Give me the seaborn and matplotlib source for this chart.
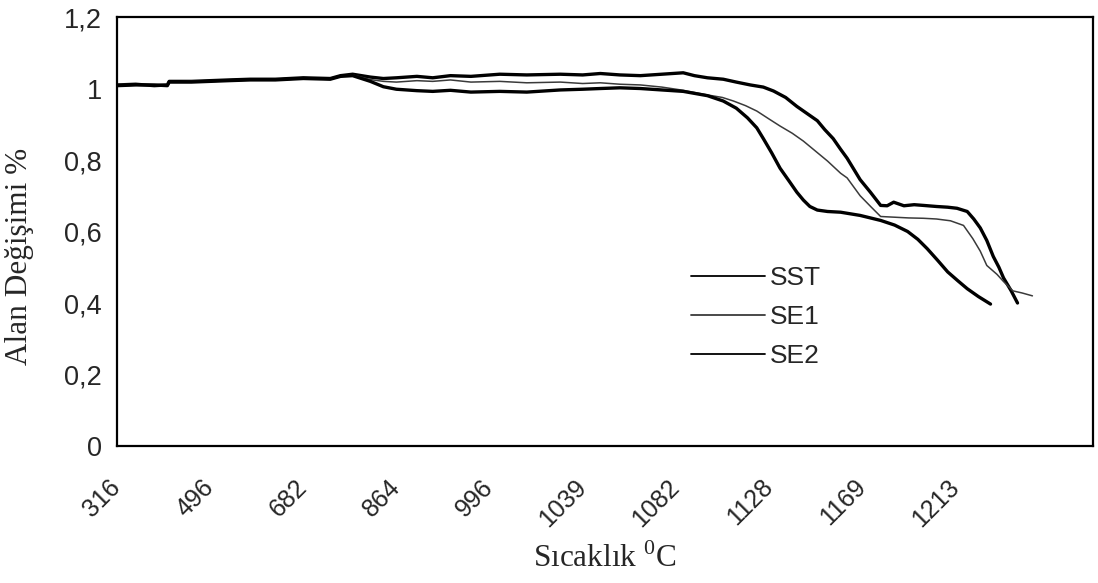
import matplotlib
matplotlib.use("Agg")
import matplotlib.pyplot as plt
import seaborn as sns
import pandas as pd

# ---- data (sample index along a category axis; ticks every 100 samples) ----
tick_labels = ["316", "496", "682", "864", "996", "1039", "1082", "1128", "1169", "1213"]

sst_idx = [0, 20, 40, 54, 56, 80, 100, 120, 143, 170, 200, 229, 240, 253, 272, 286, 300,
           322, 339, 358, 380, 411, 440, 476, 500, 519, 540, 562, 585, 608, 620, 634, 651,
           665, 680, 694, 705, 718, 730, 741, 752, 760, 769, 777, 784, 791, 798, 809, 820,
           827, 834, 845, 856, 866, 880, 892, 902, 913, 920, 927, 934, 941, 947, 952, 960, 967]
sst_val = [1.010, 1.012, 1.008, 1.010, 1.020, 1.020, 1.022, 1.024, 1.026, 1.026, 1.030, 1.028,
           1.036, 1.040, 1.032, 1.028, 1.030, 1.034, 1.030, 1.036, 1.034, 1.040, 1.038, 1.040,
           1.038, 1.042, 1.038, 1.036, 1.040, 1.044, 1.036, 1.030, 1.026, 1.018, 1.010, 1.004,
           0.993, 0.975, 0.950, 0.930, 0.910, 0.885, 0.860, 0.830, 0.805, 0.775, 0.745, 0.710,
           0.673, 0.672, 0.682, 0.672, 0.675, 0.673, 0.670, 0.668, 0.665, 0.656, 0.635, 0.610,
           0.575, 0.530, 0.500, 0.470, 0.435, 0.400]

se1_idx = [0, 20, 40, 54, 56, 80, 100, 120, 143, 170, 200, 229, 240, 253, 272, 286, 300,
           322, 339, 358, 380, 411, 440, 476, 500, 519, 540, 562, 585, 608, 634, 650, 662,
           675, 687, 700, 712, 725, 737, 750, 763, 777, 784, 798, 810, 820, 835, 850, 866,
           880, 895, 909, 919, 927, 934, 945, 952, 962, 972, 983]
se1_val = [1.012, 1.010, 1.010, 1.012, 1.018, 1.020, 1.020, 1.022, 1.024, 1.025, 1.028, 1.026,
           1.034, 1.038, 1.025, 1.020, 1.018, 1.022, 1.020, 1.024, 1.018, 1.020, 1.016, 1.018,
           1.014, 1.016, 1.012, 1.010, 1.004, 0.995, 0.982, 0.975, 0.965, 0.952, 0.937, 0.915,
           0.895, 0.875, 0.853, 0.825, 0.797, 0.763, 0.750, 0.700, 0.668, 0.642, 0.640, 0.638,
           0.637, 0.635, 0.630, 0.617, 0.580, 0.545, 0.505, 0.480, 0.460, 0.434, 0.428, 0.420]

se2_idx = [0, 20, 40, 54, 56, 80, 100, 120, 143, 170, 200, 229, 240, 253, 272, 286, 300,
           322, 339, 358, 380, 411, 440, 476, 500, 519, 540, 562, 585, 608, 634, 651, 665,
           677, 687, 694, 703, 712, 722, 730, 737, 744, 752, 763, 777, 798, 820, 835, 849,
           860, 870, 881, 892, 903, 913, 925, 938]
se2_val = [1.008, 1.010, 1.010, 1.008, 1.018, 1.018, 1.020, 1.022, 1.024, 1.024, 1.028, 1.026,
           1.034, 1.036, 1.020, 1.005, 0.998, 0.994, 0.992, 0.995, 0.990, 0.992, 0.990, 0.996,
           0.998, 1.000, 1.002, 1.000, 0.996, 0.992, 0.980, 0.965, 0.945, 0.918, 0.890, 0.860,
           0.820, 0.777, 0.740, 0.710, 0.688, 0.670, 0.660, 0.656, 0.654, 0.645, 0.631, 0.618,
           0.600, 0.578, 0.552, 0.520, 0.487, 0.462, 0.440, 0.418, 0.397]

series_names = ["SST", "SE1", "SE2"]

# ---- build long table ----
frames = []
for name, idx, val in zip(series_names, [sst_idx, se1_idx, se2_idx], [sst_val, se1_val, se2_val]):
    frames.append(pd.DataFrame({"idx": idx, "val": val, "series": name}))
df = pd.concat(frames, ignore_index=True)

sns.set_theme(style="white")
plt.rcParams["font.family"] = ["Liberation Sans", "DejaVu Sans"]
plt.rcParams["mathtext.fontset"] = "custom"
plt.rcParams["mathtext.rm"] = "Liberation Serif"

fig = plt.figure(figsize=(10.98, 5.83), dpi=100)
ax = fig.add_axes([0.1066, 0.235, 0.8888, 0.7358])

styles = {"SST": dict(color="black", lw=2.4),
          "SE1": dict(color="#3a3a3a", lw=1.1),
          "SE2": dict(color="black", lw=2.4)}
for name in series_names:
    sub = df[df["series"] == name]
    sns.lineplot(data=sub, x="idx", y="val", ax=ax, label=name,
                 color=styles[name]["color"], linewidth=styles[name]["lw"],
                 estimator=None, sort=False)

ax.set_xlim(0, 1048)
ax.set_ylim(0, 1.2)
ax.set_xticks([i * 100 for i in range(len(tick_labels))])
ax.set_xticklabels(tick_labels, rotation=45, ha="right", va="center",
                   rotation_mode="anchor", fontsize=18)
yt = [0, 0.2, 0.4, 0.6, 0.8, 1.0, 1.2]
ax.set_yticks(yt)
ax.set_yticklabels(["0", "0,2", "0,4", "0,6", "0,8", "1", "1,2"], fontsize=19.5)
ax.tick_params(axis="y", direction="inout", length=10, width=1, color="black", pad=6)
ax.tick_params(axis="x", length=0, pad=27)

for sp in ax.spines.values():
    sp.set_visible(True)
    sp.set_color("black")
    sp.set_linewidth(1.6)

ax.set_xlabel(r"Sıcaklık $^\mathrm{0}$C", fontsize=22.5, family="Liberation Serif")
ax.xaxis.set_label_coords(0.5, -0.228)
ax.set_ylabel("Alan Değişimi %", fontsize=22.5, family="Liberation Serif")
ax.yaxis.set_label_coords(-0.085, 0.443)

leg = ax.legend(loc="upper left", bbox_to_anchor=(0.588, 0.42), frameon=False,
                fontsize=19, handlelength=2.8, handletextpad=0.2, labelspacing=0.57,
                borderpad=0, borderaxespad=0)
for line in leg.get_lines():
    line.set_linewidth(1.3)

fig.savefig("out.png", dpi=100)
